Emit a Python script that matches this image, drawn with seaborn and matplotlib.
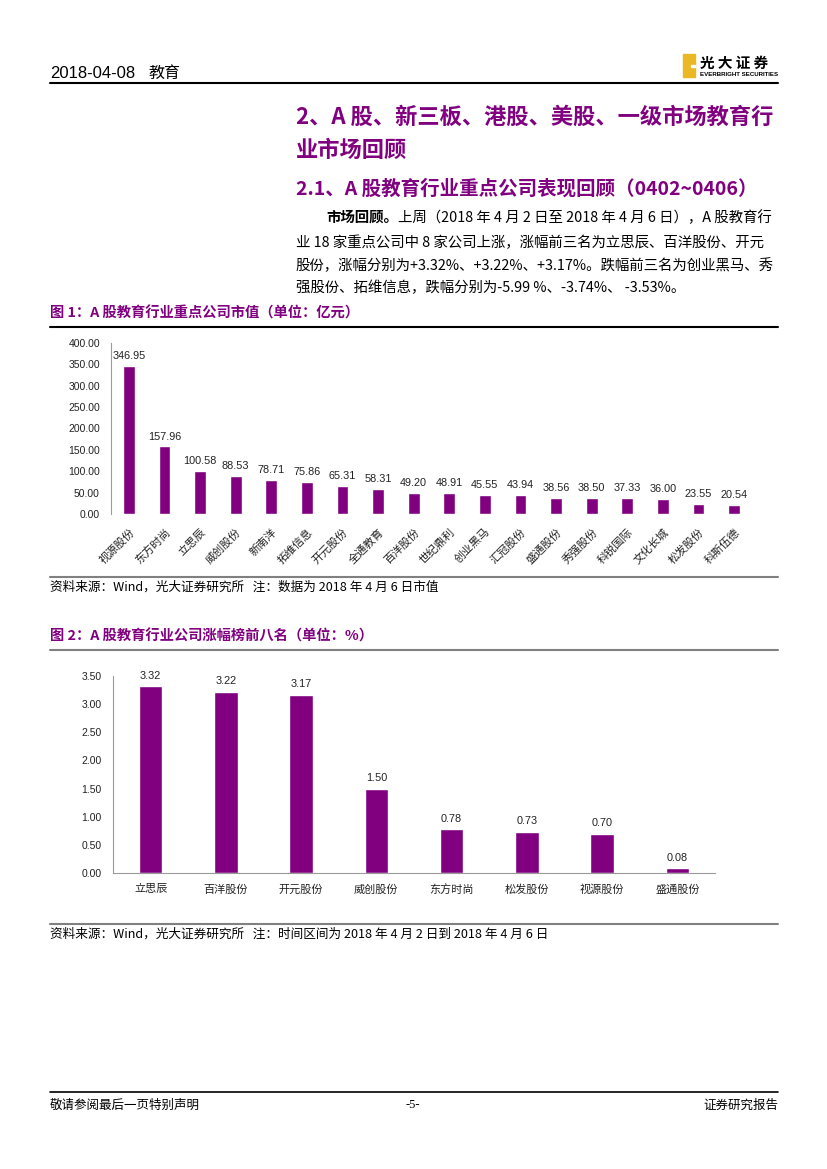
import matplotlib
matplotlib.use("Agg")
import matplotlib.pyplot as plt
from matplotlib.lines import Line2D
from matplotlib.patches import Rectangle
import seaborn as sns
import pandas as pd

# ---------------- data ----------------
cap_companies = ["视源股份", "东方时尚", "立思辰", "威创股份", "新南洋", "拓维信息",
                 "开元股份", "全通教育", "百洋股份", "世纪鼎利", "创业黑马", "汇冠股份",
                 "盛通股份", "秀强股份", "科锐国际", "文化长城", "松发股份", "科斯伍德"]
cap_values = [346.95, 157.96, 100.58, 88.53, 78.71, 75.86, 65.31, 58.31, 49.20,
              48.91, 45.55, 43.94, 38.56, 38.50, 37.33, 36.00, 23.55, 20.54]
cap_yticks = [0, 50, 100, 150, 200, 250, 300, 350, 400]

gain_companies = ["立思辰", "百洋股份", "开元股份", "威创股份", "东方时尚",
                  "松发股份", "视源股份", "盛通股份"]
gain_values = [3.32, 3.22, 3.17, 1.50, 0.78, 0.73, 0.70, 0.08]
gain_yticks = [0, 0.5, 1.0, 1.5, 2.0, 2.5, 3.0, 3.5]

# ---------------- style ----------------
sns.set_theme(style="white")
CJK = ["Noto Sans CJK SC", "DejaVu Sans"]
LAT = ["Liberation Sans", "Noto Sans CJK SC", "DejaVu Sans"]
plt.rcParams["font.family"] = CJK
plt.rcParams["axes.unicode_minus"] = False

PURPLE = "#800080"
W, H = 827, 1169
fig = plt.figure(figsize=(W / 100, H / 100), dpi=100)
fig.patch.set_facecolor("white")


def fx(x):
    return x / W


def fy(y):
    return 1 - y / H


def hline(y, x0=50, x1=778, color="black", lw=1.2):
    fig.add_artist(Line2D([fx(x0), fx(x1)], [fy(y), fy(y)], color=color, lw=lw,
                          transform=fig.transFigure))


def txt(x, y, s, size, color="black", weight="normal", ha="left", family=CJK, **kw):
    return fig.text(fx(x), fy(y), s, fontsize=size, color=color, weight=weight,
                    ha=ha, va="center", family=family, **kw)


# ---------------- header ----------------
txt(50, 73, "2018-04-08", 12, family=LAT)
txt(148, 73, "教育", 11.5)
hline(83, lw=1.5)
# logo
fig.add_artist(Rectangle((fx(683), fy(77)), fx(12), 23 / H, color="#E9B824",
                         transform=fig.transFigure))
fig.add_artist(Rectangle((fx(691), fy(67)), fx(4), 1.5 / H, color="white",
                         transform=fig.transFigure))
txt(700, 63, "光 大 证 券", 10.5, weight="bold")
txt(700, 74, "EVERBRIGHT SECURITIES", 4.4, weight="bold", family=LAT)

# ---------------- titles ----------------
txt(296, 117, "2、A 股、新三板、港股、美股、一级市场教育行", 16, color=PURPLE, weight="bold")
txt(296, 150, "业市场回顾", 16, color=PURPLE, weight="bold")
txt(296, 189, "2.1、A 股教育行业重点公司表现回顾（0402~0406）", 14, color=PURPLE, weight="bold")

PS = 10.4
fig.canvas.draw()
r = fig.canvas.get_renderer()
t0 = txt(326, 218, "市场回顾。", PS, weight="bold")
bb = t0.get_window_extent(renderer=r)
txt(bb.x1, 218, "上周（2018 年 4 月 2 日至 2018 年 4 月 6 日），A 股教育行", PS)
txt(296, 243, "业 18 家重点公司中 8 家公司上涨，涨幅前三名为立思辰、百洋股份、开元", PS)
txt(296, 266, "股份，涨幅分别为+3.32%、+3.22%、+3.17%。跌幅前三名为创业黑马、秀", PS)
txt(296, 288, "强股份、拓维信息，跌幅分别为-5.99 %、-3.74%、 -3.53%。", PS)

# ---------------- figure 1 ----------------
txt(50, 313, "图 1：A 股教育行业重点公司市值（单位：亿元）", 10.3, color=PURPLE, weight="bold")
hline(327, lw=1.5)

ax1 = fig.add_axes([fx(111), fy(514), fx(752 - 111), (514 - 343) / H])
df1 = pd.DataFrame({"company": cap_companies, "value": cap_values})
sns.barplot(data=df1, x="company", y="value", color=PURPLE, saturation=1,
            width=0.33, ax=ax1)
ax1.set_ylim(0, 400)
ax1.set_xlim(-0.5, len(cap_companies) - 0.5)
ax1.set_yticks(cap_yticks)
ax1.set_yticklabels([f"{v:.2f}" for v in cap_yticks], family=LAT, fontsize=7.5, color="#222222")
ax1.set_xlabel("")
ax1.set_ylabel("")
ax1.tick_params(axis="y", length=0, pad=8)
ax1.tick_params(axis="x", length=0, pad=9)
for lab in ax1.get_xticklabels():
    lab.set_rotation(45)
    lab.set_ha("right")
    lab.set_rotation_mode("anchor")
    lab.set_fontsize(8)
    lab.set_color("#222222")
for s in ["top", "right", "bottom"]:
    ax1.spines[s].set_visible(False)
ax1.spines["left"].set_color("#9a9a9a")
ax1.spines["left"].set_linewidth(0.8)
ax1.patch.set_alpha(0)
ax1.bar_label(ax1.containers[0], fmt="%.2f", padding=3.5, fontsize=7.8,
              family=LAT, color="#222222")

hline(577, color="#808080", lw=1.5)
txt(50, 587, "资料来源：Wind，光大证券研究所   注：数据为 2018 年 4 月 6 日市值", 9.1)

# ---------------- figure 2 ----------------
txt(50, 636, "图 2：A 股教育行业公司涨幅榜前八名（单位：%）", 10.3, color=PURPLE, weight="bold")
hline(650, color="#808080", lw=1.5)

ax2 = fig.add_axes([fx(113), fy(873), fx(715 - 113), (873 - 676) / H])
df2 = pd.DataFrame({"company": gain_companies, "value": gain_values})
sns.barplot(data=df2, x="company", y="value", color=PURPLE, saturation=1,
            width=0.31, ax=ax2)
ax2.set_ylim(0, 3.5)
ax2.set_xlim(-0.5, len(gain_companies) - 0.5)
ax2.set_yticks(gain_yticks)
ax2.set_yticklabels([f"{v:.2f}" for v in gain_yticks], family=LAT, fontsize=7.5, color="#222222")
ax2.set_xlabel("")
ax2.set_ylabel("")
ax2.tick_params(axis="y", length=0, pad=8)
ax2.tick_params(axis="x", length=0, pad=8)
for lab in ax2.get_xticklabels():
    lab.set_fontsize(8)
    lab.set_color("#222222")
for s in ["top", "right"]:
    ax2.spines[s].set_visible(False)
for s in ["left", "bottom"]:
    ax2.spines[s].set_color("#9a9a9a")
    ax2.spines[s].set_linewidth(0.8)
ax2.patch.set_alpha(0)
ax2.bar_label(ax2.containers[0], fmt="%.2f", padding=4, fontsize=7.8,
              family=LAT, color="#222222")

hline(924, color="#808080", lw=1.5)
txt(50, 934, "资料来源：Wind，光大证券研究所   注：时间区间为 2018 年 4 月 2 日到 2018 年 4 月 6 日", 9.1)

# ---------------- footer ----------------
hline(1092, lw=1.2)
txt(50, 1105, "敬请参阅最后一页特别声明", 9)
txt(413, 1105, "-5-", 9, ha="center", family=["Liberation Serif", "DejaVu Serif"])
txt(778, 1105, "证券研究报告", 9, ha="right")

fig.savefig("out.png", dpi=100, facecolor="white")
